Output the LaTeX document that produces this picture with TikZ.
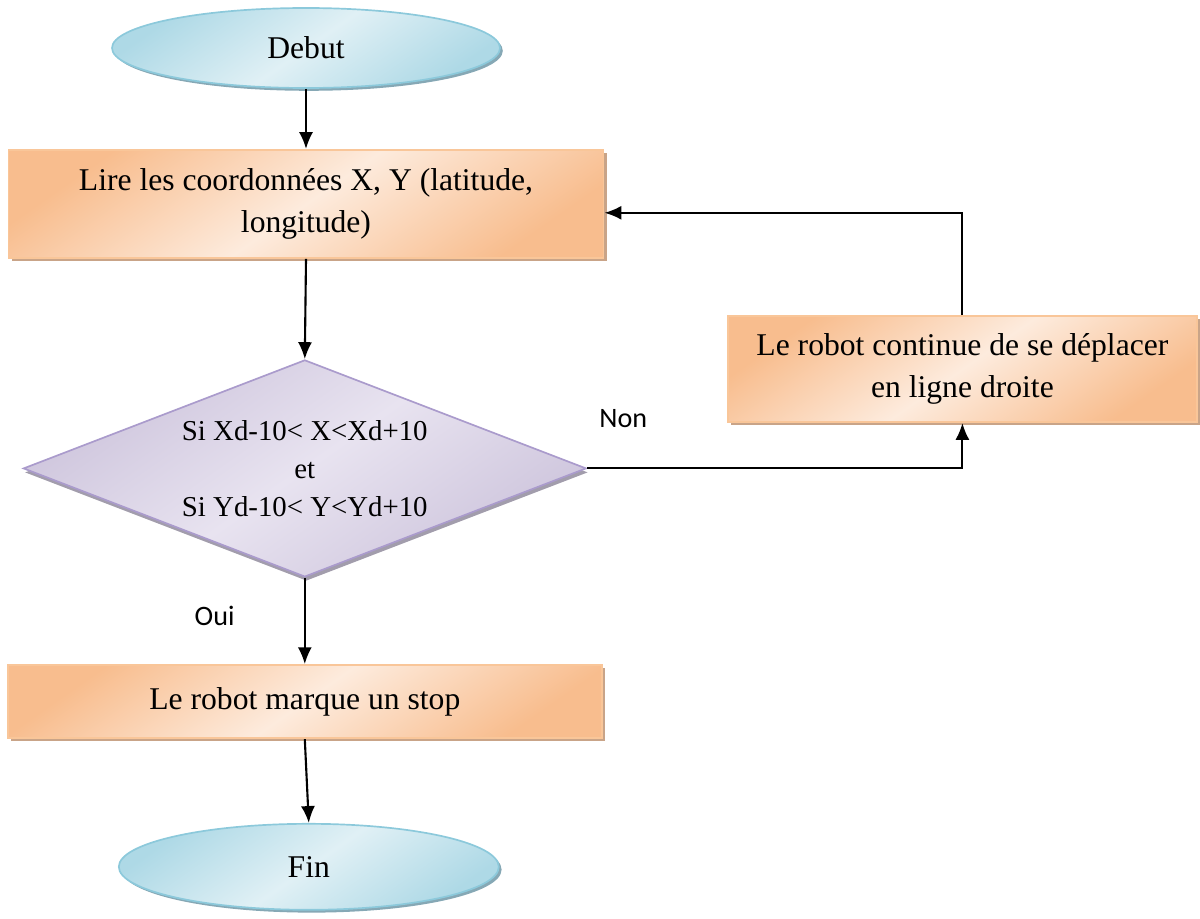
\documentclass[tikz,border=0pt]{standalone}
\usepackage{fontspec}
\setmainfont{Liberation Serif}
\newfontfamily\lblfont{Carlito}
\usetikzlibrary{arrows.meta, positioning, calc, shapes.geometric, shadows}
\definecolor{boxdark}{HTML}{F8BD8E}
\definecolor{boxlight}{HTML}{FDEBDD}
\definecolor{boxline}{HTML}{F9C699}
\definecolor{boxshadow}{HTML}{C9A488}
\definecolor{ovaldark}{HTML}{AED9E6}
\definecolor{ovallight}{HTML}{E0F0F5}
\definecolor{ovalline}{HTML}{8CC9DB}
\definecolor{ovalshadow}{HTML}{86A8B5}
\definecolor{testdark}{HTML}{CDC4DC}
\definecolor{testlight}{HTML}{E8E3F0}
\definecolor{testline}{HTML}{AA9BCC}
\definecolor{testshadow}{HTML}{A29DAC}

\begin{document}
\begin{tikzpicture}[
  >={Latex[length=12pt, width=10pt]},
  flow/.style={->, line width=1.5pt},
  terminal/.style={ellipse, draw=ovalline, line width=1.2pt,
    top color=ovaldark, bottom color=ovaldark, middle color=ovallight, shading angle=35,
    drop shadow={shadow xshift=0.07cm, shadow yshift=-0.07cm, fill=ovalshadow, opacity=1},
    minimum width=9.7cm, minimum height=2cm, font=\fontsize{22.5}{30}\selectfont},
  process/.style={rectangle, draw=boxline, line width=1.4pt,
    top color=boxdark, bottom color=boxdark, middle color=boxlight, shading angle=35,
    drop shadow={shadow xshift=0.08cm, shadow yshift=-0.08cm, fill=boxshadow, opacity=1},
    align=center, font=\fontsize{22.5}{30}\selectfont},
  test/.style={diamond, aspect=2.6, draw=testline, line width=1.2pt, inner sep=0pt,
    top color=testdark, bottom color=testdark, middle color=testlight, shading angle=35,
    drop shadow={shadow xshift=0.04cm, shadow yshift=-0.1cm, fill=testshadow, opacity=1},
    minimum width=14.075cm, minimum height=5.425cm, align=center,
    font=\fontsize{20.5}{27}\selectfont},
  lbl/.style={inner sep=0pt, font=\lblfont\fontsize{20}{24}\selectfont}
]
\useasboundingbox (0,0) rectangle (30,-22.95);

\node[terminal] (debut) at (7.65,-1.2) {Debut};
\node[process, minimum width=14.875cm, minimum height=2.7cm] (lire) at (7.65,-5.1)
  {Lire les coordonnées X, Y (latitude,\\longitude)};
\node[test] (cond) at (7.62,-11.71) {Si Xd-10< X<Xd+10\\et\\Si Yd-10< Y<Yd+10};
\node[process, minimum width=11.725cm, minimum height=2.65cm] (move) at (24.06,-9.225)
  {Le robot continue de se déplacer\\en ligne droite};
\node[process, minimum width=14.85cm, minimum height=1.825cm] (stop) at (7.62,-17.54)
  {Le robot marque un stop};
\node[terminal, minimum width=9.5cm, minimum height=2.15cm] (fin) at (7.72,-21.67) {Fin};

\node[lbl, above right=1.0cm and 0.3cm of cond.east] (non) {Non};
\node[lbl, below left=0.7cm and 1.75cm of cond.south] (oui) {Oui};

\draw[flow] (debut.south) -- (lire.north);
\draw[flow] (lire.south) -- (cond.north);
\draw[flow] (cond.east) -| (move.south);
\draw[flow] (move.north) |- ($(lire.east)+(0,-0.22)$);
\draw[flow] (cond.south) -- (stop.north);
\draw[flow] (stop.south) -- (fin.north);
\end{tikzpicture}
\end{document}
